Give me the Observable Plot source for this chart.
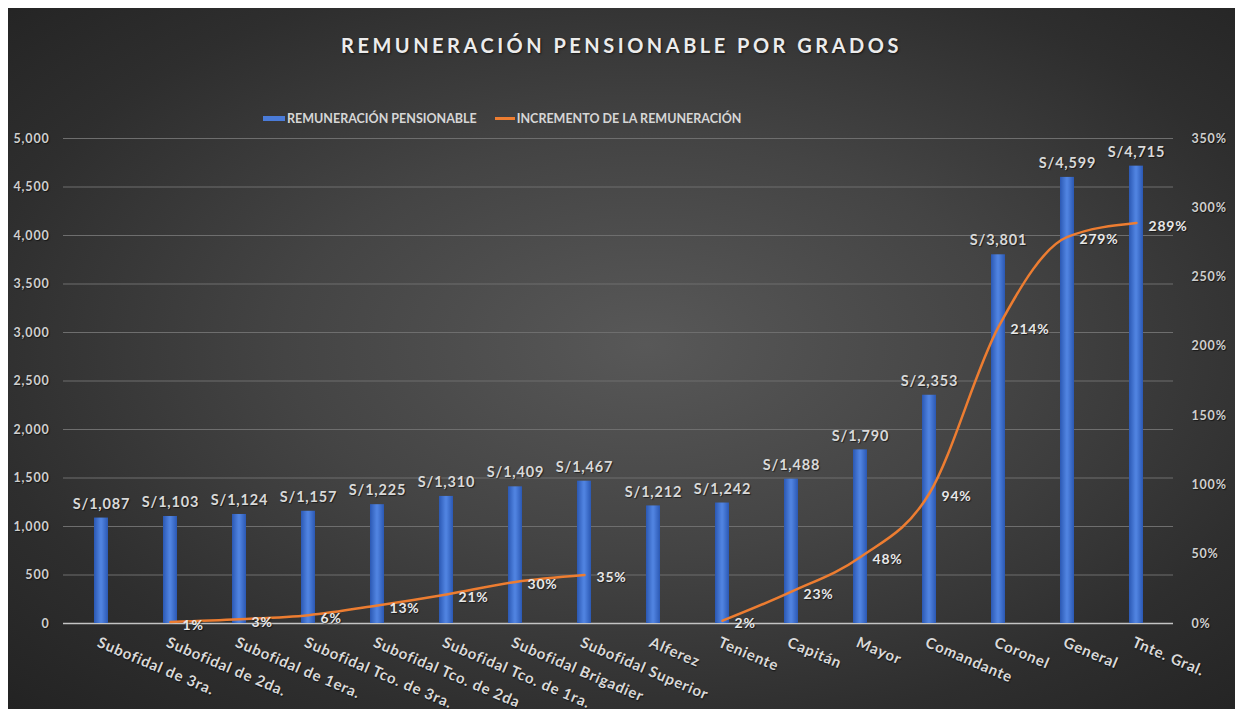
<!DOCTYPE html>
<html><head><meta charset="utf-8">
<script src="https://cdn.jsdelivr.net/npm/d3@7"></script>
<script src="https://cdn.jsdelivr.net/npm/@observablehq/plot@0.6"></script>
<style>
html,body{margin:0;padding:0;background:#fff;width:1235px;height:709px;overflow:hidden;}
#chart{position:absolute;left:8px;top:8px;width:1227px;height:701px;
  background:radial-gradient(ellipse farthest-corner at 52% 48%, #585858 0%, #444 40%, #2e2e2e 75%, #232323 100%);
  font-family:Lato,"Open Sans",sans-serif;}
#title{position:absolute;top:25px;left:0;width:100%;text-align:center;font-size:20px;font-weight:bold;letter-spacing:3.5px;color:#ececec;text-shadow:1px 1px 2px rgba(0,0,0,0.6);}
#legend{position:absolute;top:102px;left:255px;display:flex;align-items:center;font-size:12.5px;font-weight:bold;color:#d6d6d6;height:16px;}
#legend .sw{display:inline-block;width:22px;height:5px;background:#4a7bd8;margin-right:2px;}
#legend .ln{display:inline-block;width:20px;height:3px;background:#ed7d31;margin-left:18px;margin-right:2px;}
#plot{position:absolute;top:120px;left:0;}
#plot svg text{text-shadow:1px 1px 1px rgba(0,0,0,0.55);letter-spacing:0.8px;}
</style></head>
<body>
<div id="chart">
  <div id="title">REMUNERACIÓN PENSIONABLE POR GRADOS</div>
  <div id="legend"><span class="sw"></span>REMUNERACIÓN PENSIONABLE<span class="ln"></span>INCREMENTO DE LA REMUNERACIÓN</div>
  <div id="plot"></div>
</div>
<script>
const categories = ["Subofidal de 3ra.","Subofidal de 2da.","Subofidal de 1era.","Subofidal Tco. de 3ra.","Subofidal Tco. de 2da","Subofidal Tco. de 1ra.","Subofidal Brigadier","Subofidal Superior","Alferez","Teniente","Capitán","Mayor","Comandante","Coronel","General","Tnte. Gral."];
const remuneracion = [1087,1103,1124,1157,1225,1310,1409,1467,1212,1242,1488,1790,2353,3801,4599,4715];
const incremento = [null,1,3,6,13,21,30,35,null,2,23,48,94,214,279,289];
const leftTicks = [0,500,1000,1500,2000,2500,3000,3500,4000,4500,5000];
const rightTicks = [0,50,100,150,200,250,300,350];
const Y_MAX = 5000, PCT_MAX = 350;

const toY = p => (p == null ? NaN : p * Y_MAX / PCT_MAX);
const data = categories.map((c, i) => ({cat: c, rem: remuneracion[i], pct: incremento[i]}));
const fmt = d3.format(",");

const defs = () => {
  const ns = "http://www.w3.org/2000/svg";
  const d = document.createElementNS(ns, "defs");
  const g = document.createElementNS(ns, "linearGradient");
  g.setAttribute("id", "barGrad");
  g.setAttribute("x1", "0"); g.setAttribute("x2", "1"); g.setAttribute("y1", "0"); g.setAttribute("y2", "0");
  [["0%", "#2b58b3"], ["45%", "#4f82df"], ["55%", "#4f82df"], ["100%", "#2b58b3"]].forEach(([o, c]) => {
    const s = document.createElementNS(ns, "stop");
    s.setAttribute("offset", o); s.setAttribute("stop-color", c);
    g.appendChild(s);
  });
  d.appendChild(g);
  return d;
};

const chart = Plot.plot({
  width: 1227, height: 581,
  marginLeft: 55, marginRight: 62, marginTop: 10, marginBottom: 86,
  x: {domain: categories, paddingInner: 0.8, paddingOuter: 0.4, axis: null},
  y: {domain: [0, Y_MAX], axis: null},
  style: {background: "transparent", overflow: "visible", fontFamily: "Lato, 'Open Sans', sans-serif"},
  marks: [
    defs,
    Plot.gridY(leftTicks.filter(t => t > 0), {stroke: "#6e6e6e", strokeOpacity: 1, strokeWidth: 1}),
    Plot.ruleY([0], {stroke: "#c4c4c4", strokeWidth: 1.5}),
    Plot.axisY({anchor: "left", label: null, ticks: leftTicks, tickFormat: fmt, tickSize: 0, tickPadding: 14, fontSize: 12.5, fontWeight: "bold", fill: "#cfcfcf"}),
    Plot.axisY({anchor: "right", label: null, ticks: rightTicks.map(toY), tickFormat: v => Math.round(v * PCT_MAX / Y_MAX) + "%", tickSize: 0, tickPadding: 18, textAnchor: "start", fontSize: 12.5, fontWeight: "bold", fill: "#cfcfcf"}),
    Plot.barY(data, {x: "cat", y: "rem", fill: "url(#barGrad)"}),
    Plot.text(data, {x: "cat", y: "rem", text: d => "S/" + fmt(d.rem), dy: -14, fontSize: 14.5, fontWeight: "bold", fill: "#d9d9d9"}),
    Plot.line(data, {x: "cat", y: d => toY(d.pct), stroke: "#ed7d31", strokeWidth: 2.5, curve: "monotone-x"}),
    Plot.text(data.filter(d => d.pct != null), {x: "cat", y: d => toY(d.pct), text: d => d.pct + "%", textAnchor: "start", dx: 12, dy: 3, fontSize: 14, fontWeight: "bold", fill: "#e8e8e8"}),
    Plot.text(categories, {x: d => d, frameAnchor: "bottom", rotate: 23, textAnchor: "start", lineAnchor: "top", dx: -1, dy: 13, fontSize: 15, fontWeight: "bold", fill: "#d9d9d9"})
  ]
});
document.getElementById("plot").appendChild(chart);
</script>
</body></html>
